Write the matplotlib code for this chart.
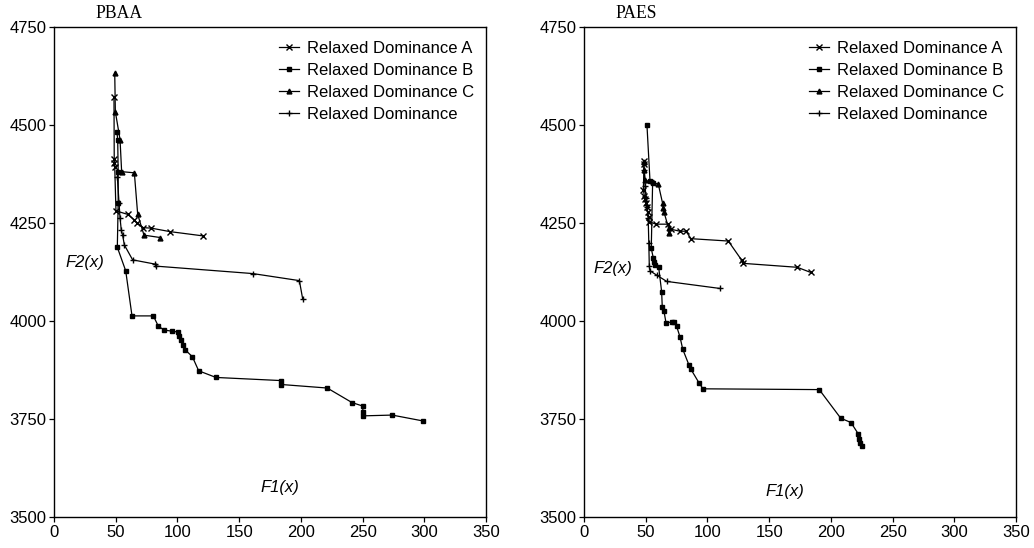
import matplotlib
matplotlib.use("Agg")
import matplotlib.pyplot as plt

# ---------------- data: PBAA ----------------
pbaa_A_x = [48.6, 48.8, 49.0, 49.2, 50.2, 59.7, 65.1, 67.0, 72.4, 78.6, 94.0, 121.0]
pbaa_A_y = [4572, 4412, 4402, 4394, 4281, 4272, 4258, 4251, 4238, 4237, 4228, 4217]

pbaa_B_x = [51.0, 51.6, 52.0, 52.0, 51.3, 58.1, 63.2, 80.5, 84.5, 89.1, 95.6, 100.2, 101.5,
            102.9, 104.8, 106.4, 112.1, 117.2, 131.2, 184.2, 184.2, 221.4, 241.4, 250.1,
            250.3, 250.3, 274.0, 299.0]
pbaa_B_y = [4483, 4462, 4380, 4302, 4188, 4128, 4013, 4013, 3987, 3977, 3974, 3972, 3962,
            3952, 3939, 3926, 3909, 3873, 3856, 3848, 3838, 3829, 3792, 3783,
            3769, 3758, 3760, 3745]

pbaa_C_x = [49.2, 49.7, 53.5, 54.8, 65.1, 67.8, 72.9, 85.9]
pbaa_C_y = [4633, 4534, 4463, 4381, 4378, 4272, 4219, 4213]

pbaa_D_x = [51.3, 52.7, 53.5, 54.5, 55.6, 57.0, 63.7, 82.1, 82.5, 161.0, 198.8, 201.5]
pbaa_D_y = [4368, 4301, 4263, 4232, 4219, 4194, 4156, 4145, 4140, 4121, 4103, 4056]

# ---------------- data: PAES ----------------
paes_A_x = [48.6, 48.6, 48.1, 48.9, 49.4, 50.0, 50.8, 51.6, 52.4, 52.9, 58.3, 68.3, 70.5,
            77.8, 82.6, 86.7, 116.9, 127.8, 129.1, 172.8, 183.6]
paes_A_y = [4408, 4400, 4333, 4320, 4310, 4300, 4291, 4278, 4265, 4253, 4247, 4247, 4234,
            4229, 4229, 4210, 4204, 4155, 4147, 4137, 4124]

paes_B_x = [51.0, 53.5, 55.6, 54.5, 56.2, 57.0, 57.5, 60.5, 62.9, 63.4, 64.8, 66.4, 71.0,
            72.9, 75.1, 77.8, 80.0, 85.0, 86.4, 93.4, 96.4, 190.6, 208.0, 216.3, 222.2,
            223.0, 224.0, 225.0]
paes_B_y = [4500, 4356, 4353, 4185, 4160, 4150, 4142, 4137, 4075, 4036, 4025, 3996, 3997,
            3997, 3986, 3959, 3928, 3888, 3878, 3841, 3827, 3825, 3752, 3741, 3712,
            3700, 3690, 3680]

paes_C_x = [48.6, 48.6, 49.4, 55.6, 60.2, 63.7, 64.3, 64.8, 68.6, 68.9]
paes_C_y = [4405, 4384, 4359, 4354, 4349, 4300, 4287, 4278, 4236, 4225]

paes_D_x = [49.0, 49.5, 50.2, 51.0, 52.0, 52.5, 52.9, 53.5, 58.9, 67.0, 110.2]
paes_D_y = [4385, 4345, 4315, 4290, 4262, 4200, 4140, 4128, 4117, 4101, 4083]

labels = ["Relaxed Dominance A", "Relaxed Dominance B", "Relaxed Dominance C", "Relaxed Dominance"]
x_ticks = [0, 50, 100, 150, 200, 250, 300, 350]
y_ticks = [3500, 3750, 4000, 4250, 4500, 4750]

plt.rcParams['font.family'] = ['Liberation Sans', 'DejaVu Sans']

fig = plt.figure(figsize=(10.34, 5.48), dpi=100)
W, H = 1034, 548
axL = fig.add_axes([54 / W, (H - 517) / H, 432 / W, 490 / H])
axR = fig.add_axes([584 / W, (H - 517) / H, 432 / W, 490 / H])

styles = [
    dict(marker='x', markersize=4, markeredgewidth=1.0),
    dict(marker='s', markersize=2.6),
    dict(marker='^', markersize=3.5),
    dict(marker='+', markersize=5, markeredgewidth=1.0),
]

panels = [
    (axL, "PBAA", 0.15, [(pbaa_A_x, pbaa_A_y), (pbaa_B_x, pbaa_B_y), (pbaa_C_x, pbaa_C_y), (pbaa_D_x, pbaa_D_y)],
     (8.9, 4148), (167, 3576)),
    (axR, "PAES", 0.12, [(paes_A_x, paes_A_y), (paes_B_x, paes_B_y), (paes_C_x, paes_C_y), (paes_D_x, paes_D_y)],
     (7.3, 4135), (147, 3564)),
]

for ax, title, tx, series, f2pos, f1pos in panels:
    for (xs, ys), lab, st in zip(series, labels, styles):
        ax.plot(xs, ys, color='black', linewidth=0.9, label=lab,
                markerfacecolor='black', markeredgecolor='black', **st)
    ax.set_xlim(0, 350)
    ax.set_ylim(3500, 4750)
    ax.set_xticks(x_ticks)
    ax.set_yticks(y_ticks)
    ax.tick_params(direction='out', length=3.5, width=0.9, labelsize=12, pad=2)
    for sp in ax.spines.values():
        sp.set_linewidth(1.0)
    ax.text(tx, 1.0 + 14 / 490, title, transform=ax.transAxes, ha='center', va='center',
            fontsize=12.7, family=['Liberation Serif', 'DejaVu Serif'])
    ax.text(f2pos[0], f2pos[1], "F2(x)", ha='left', va='center', fontsize=12, style='italic')
    ax.text(f1pos[0], f1pos[1], "F1(x)", ha='left', va='center', fontsize=12, style='italic')
    ax.legend(loc='upper right', bbox_to_anchor=((474 - 54) / 432, (517 - 41) / 490),
              frameon=False, fontsize=12, handlelength=1.2, handletextpad=0.45,
              labelspacing=0.42, borderpad=0, borderaxespad=0)

fig.savefig("out.png", dpi=100)
